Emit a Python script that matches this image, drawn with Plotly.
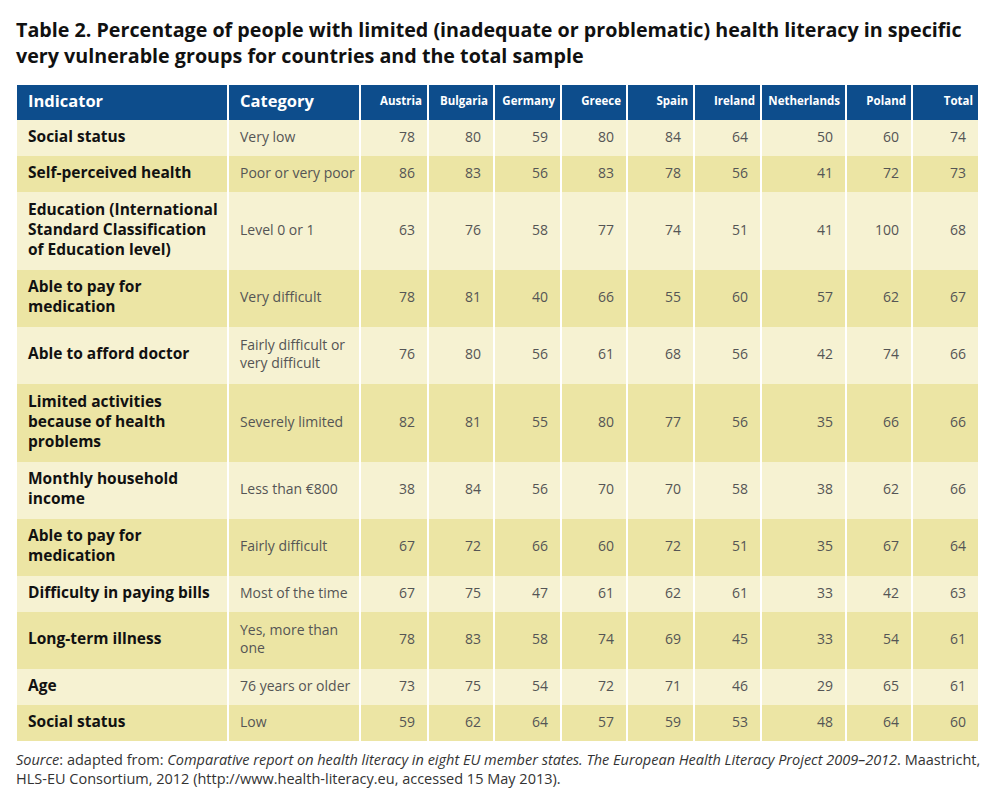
import plotly.graph_objects as go

# table content
indicators = [
    "Social status",
    "Self-perceived health",
    "Education (International<br>Standard Classification<br>of Education level)",
    "Able to pay for<br>medication",
    "Able to afford doctor",
    "Limited activities<br>because of health<br>problems",
    "Monthly household<br>income",
    "Able to pay for<br>medication",
    "Difficulty in paying bills",
    "Long-term illness",
    "Age",
    "Social status",
]
categories = [
    "Very low",
    "Poor or very poor",
    "Level 0 or 1",
    "Very difficult",
    "Fairly difficult or<br>very difficult",
    "Severely limited",
    "Less than €800",
    "Fairly difficult",
    "Most of the time",
    "Yes, more than<br>one",
    "76 years or older",
    "Low",
]
countries = ["Austria", "Bulgaria", "Germany", "Greece", "Spain", "Ireland",
             "Netherlands", "Poland", "Total"]

austria = [78, 86, 63, 78, 76, 82, 38, 67, 67, 78, 73, 59]
bulgaria = [80, 83, 76, 81, 80, 81, 84, 72, 75, 83, 75, 62]
germany = [59, 56, 58, 40, 56, 55, 56, 66, 47, 58, 54, 64]
greece = [80, 83, 77, 66, 61, 80, 70, 60, 61, 74, 72, 57]
spain = [84, 78, 74, 55, 68, 77, 70, 72, 62, 69, 71, 59]
ireland = [64, 56, 51, 60, 56, 56, 58, 51, 61, 45, 46, 53]
netherlands = [50, 41, 41, 57, 42, 35, 38, 35, 33, 33, 29, 48]
poland = [60, 72, 100, 62, 74, 66, 62, 67, 42, 54, 65, 64]
total = [74, 73, 68, 67, 66, 66, 66, 64, 63, 61, 61, 60]
values = [austria, bulgaria, germany, greece, spain, ireland, netherlands, poland, total]

title_text = ("Table 2. Percentage of people with limited (inadequate or problematic) health literacy in specific<br>"
              "very vulnerable groups for countries and the total sample")
source_text = ("<i>Source</i>: adapted from: <i>Comparative report on health literacy in eight EU member states. "
               "The European Health Literacy Project 2009–2012</i>. Maastricht,<br>"
               "HLS-EU Consortium, 2012 (http://www.health-literacy.eu, accessed 15 May 2013).")

# sizes / styles
col_widths = [212, 132, 68, 66, 67, 66, 67, 67, 85, 66, 67]
header_h = 35
line_h = 21
row_pad = 15
blue = "#0d4d8c"
light = "#f6f2d2"
dark = "#ece5a4"
grey = "#555555"
font = "Open Sans"

x_edges = [0]
for w in col_widths:
    x_edges.append(x_edges[-1] + w)

n_rows = len(indicators)
lines = [max(indicators[i].count("<br>"), categories[i].count("<br>")) + 1 for i in range(n_rows)]
y_edges = [0, header_h]
for n in lines:
    y_edges.append(y_edges[-1] + row_pad + line_h * n)

# z only picks the fill colour: 2 header, 0 / 1 alternating rows
z = [[2] * len(col_widths)]
for i in range(n_rows):
    z.append([i % 2] * len(col_widths))

fig = go.Figure()
fig.add_trace(go.Heatmap(
    x=x_edges, y=y_edges, z=z,
    colorscale=[[0, light], [0.5, dark], [1, blue]],
    zmin=0, zmax=2, showscale=False, xgap=2, ygap=0,
    hoverinfo="skip"
))

centers = [(y_edges[i + 1] + y_edges[i + 2]) / 2 for i in range(n_rows)]
head_y = header_h / 2

# header
fig.add_trace(go.Scatter(
    x=[x_edges[0] + 12, x_edges[1] + 12], y=[head_y, head_y],
    text=["Indicator", "Category"], mode="text", textposition="middle right",
    textfont=dict(family=font, size=16.5, color="white", weight="bold"),
    hoverinfo="skip"
))
fig.add_trace(go.Scatter(
    x=[x_edges[i + 3] - 6 for i in range(len(countries))], y=[head_y] * len(countries),
    text=countries, mode="text", textposition="middle left",
    textfont=dict(family=font, size=11.5, color="white", weight="bold"),
    hoverinfo="skip"
))

# body
fig.add_trace(go.Scatter(
    x=[x_edges[0] + 12] * n_rows, y=centers, text=indicators,
    mode="text", textposition="middle right",
    textfont=dict(family=font, size=15.5, color="#111111", weight="bold"),
    hoverinfo="skip"
))
fig.add_trace(go.Scatter(
    x=[x_edges[1] + 12] * n_rows, y=centers, text=categories,
    mode="text", textposition="middle right",
    textfont=dict(family=font, size=14, color=grey),
    hoverinfo="skip"
))
for j, col in enumerate(values):
    fig.add_trace(go.Scatter(
        x=[x_edges[j + 3] - 13] * n_rows, y=centers, text=[str(v) for v in col],
        mode="text", textposition="middle left",
        textfont=dict(family=font, size=14, color=grey),
        hoverinfo="skip"
    ))

W, H = 1000, 792
ml, mt = 16, 85
plot_w = x_edges[-1]
plot_h = y_edges[-1]
mr = W - ml - plot_w
mb = H - mt - plot_h

fig.add_annotation(
    text=title_text, xref="paper", yref="paper", x=-2 / plot_w, y=1 + (mt - 14) / plot_h,
    xanchor="left", yanchor="top", align="left", showarrow=False,
    font=dict(family=font, size=19.7, color="#111111", weight="bold")
)
fig.add_annotation(
    text=source_text, xref="paper", yref="paper", x=-2 / plot_w, y=-7 / plot_h,
    xanchor="left", yanchor="top", align="left", showarrow=False,
    font=dict(family=font, size=14.5, color="#333333")
)

fig.update_xaxes(range=[0, plot_w], visible=False, fixedrange=True)
fig.update_yaxes(range=[plot_h, 0], visible=False, fixedrange=True)
fig.update_layout(
    width=W, height=H, margin=dict(l=ml, r=mr, t=mt, b=mb),
    paper_bgcolor="white", plot_bgcolor="white", showlegend=False
)

# drop the browser's default body margin so the figure sits at the page corner
fig.write_html("out.html", config={"displayModeBar": False},
               post_script="document.body.style.margin='0';")
